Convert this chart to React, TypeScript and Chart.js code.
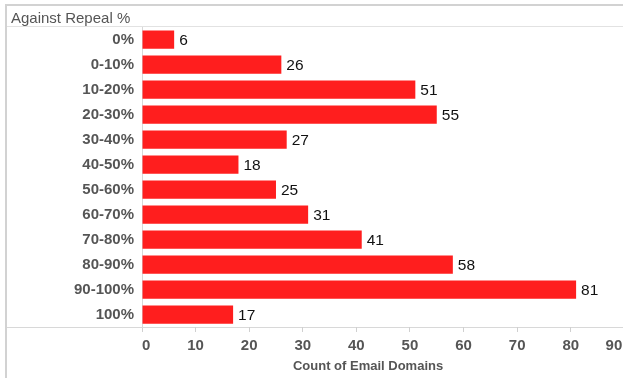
import { useEffect, useRef } from "react";
import { Chart, registerables } from "chart.js";

Chart.register(...registerables);

const categories = ["0%", "0-10%", "10-20%", "20-30%", "30-40%", "40-50%", "50-60%", "60-70%", "70-80%", "80-90%", "90-100%", "100%"];
const counts = [6, 26, 51, 55, 27, 18, 25, 31, 41, 58, 81, 17];
const xTickValues = [0, 10, 20, 30, 40, 50, 60, 70, 80, 90];
const headerLabel = "Against Repeal %";
const axisTitle = "Count of Email Domains";

const FONT = "'Liberation Sans', Arial, Helvetica, sans-serif";

const framePlugin = {
  id: "frame",
  beforeDraw(chart: any) {
    const ctx = chart.ctx;
    const W = chart.width;
    const H = chart.height;
    const area = chart.chartArea;
    ctx.save();
    ctx.fillStyle = "#ffffff";
    ctx.fillRect(0, 0, W, H);
    // outer frame
    ctx.fillStyle = "#d2d2d2";
    ctx.fillRect(5, 4, W - 5, 2);
    ctx.fillRect(5, 4, 2, H - 4);
    // header separator
    ctx.fillStyle = "#e2e2e2";
    ctx.fillRect(7, area.top - 1, W - 7, 1);
    // bottom separator
    ctx.fillStyle = "#d8d8d8";
    ctx.fillRect(7, area.bottom, W - 7, 1);
    // header text
    ctx.fillStyle = "#555555";
    ctx.font = `15px ${FONT}`;
    ctx.textAlign = "left";
    ctx.textBaseline = "alphabetic";
    ctx.fillText(headerLabel, 11, 22.5);
    ctx.restore();
  },
};

const valueLabelPlugin = {
  id: "valueLabels",
  afterDatasetsDraw(chart: any) {
    const ctx = chart.ctx;
    const meta = chart.getDatasetMeta(0);
    ctx.save();
    ctx.fillStyle = "#111111";
    ctx.font = `15.5px ${FONT}`;
    ctx.textAlign = "left";
    ctx.textBaseline = "middle";
    meta.data.forEach((bar: any, i: number) => {
      ctx.fillText(String(counts[i]), bar.x + 5, bar.y + 1);
    });
    ctx.restore();
  },
};

export default function App() {
  const canvasRef = useRef<HTMLCanvasElement | null>(null);

  useEffect(() => {
    if (!canvasRef.current) return;
    const chart = new Chart(canvasRef.current, {
      type: "bar",
      data: {
        labels: categories,
        datasets: [
          {
            data: counts,
            backgroundColor: "#ff1e1e",
            borderWidth: 0,
            barPercentage: 0.73,
            categoryPercentage: 1,
          },
        ],
      },
      options: {
        indexAxis: "y",
        animation: false,
        responsive: false,
        events: [],
        layout: { padding: { left: 0, top: 27, right: 0, bottom: 0 } },
        plugins: {
          legend: { display: false },
          tooltip: { enabled: false },
          title: { display: false },
        },
        scales: {
          y: {
            type: "category",
            position: "left",
            afterFit: (s: any) => {
              s.width = 142;
              s.paddingTop = 0;
              s.paddingBottom = 0;
            },
            grid: { display: false, drawTicks: false },
            border: { display: true, color: "#d8d8d8" },
            ticks: {
              font: { family: FONT, size: 15, weight: "bold" },
              color: "#555555",
              padding: 8,
              autoSkip: false,
            },
          },
          x: {
            type: "linear",
            position: "bottom",
            min: 0,
            max: 89.75,
            afterBuildTicks: (s: any) => {
              s.ticks = xTickValues.map((v) => ({ value: v }));
            },
            afterFit: (s: any) => {
              s.height = 51;
              s.paddingLeft = 0;
              s.paddingRight = 0;
            },
            grid: {
              display: true,
              drawOnChartArea: false,
              drawTicks: true,
              tickLength: 5,
              color: "#d0d0d0",
            },
            border: { display: false },
            ticks: {
              autoSkip: false,
              maxRotation: 0,
              font: { family: FONT, size: 15, weight: "bold" },
              color: "#555555",
              padding: 5,
              callback: (v: any) => {
                if (v === 0) return "  0";
                if (v === 90) return "90     ";
                return String(v);
              },
            },
            title: {
              display: true,
              text: axisTitle + "        ",
              font: { family: FONT, size: 13, weight: "bold" },
              color: "#555555",
              padding: { top: 0, bottom: 4 },
            },
          },
        },
      },
      plugins: [framePlugin, valueLabelPlugin],
    } as any);
    return () => chart.destroy();
  }, []);

  return (
    <div style={{ position: "absolute", left: 0, top: 0, width: 623, height: 378 }}>
      <canvas ref={canvasRef} width={623} height={378} style={{ display: "block", width: 623, height: 378 }} />
    </div>
  );
}
